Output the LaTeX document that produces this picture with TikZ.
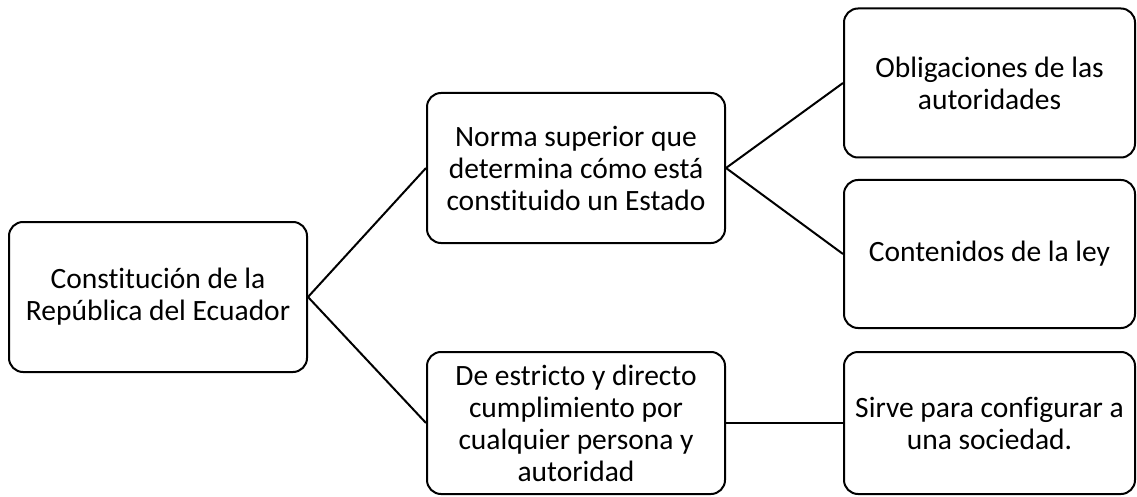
\documentclass[tikz,border=0pt]{standalone}
\usepackage{fontspec}
\setmainfont[Ligatures={NoCommon}]{Carlito}
\begin{document}
\begin{tikzpicture}[x=1pt,y=-1pt,
  box/.style={draw=black,line width=2pt,rounded corners=14pt,align=center,
    font=\fontsize{29.5}{32}\selectfont,inner sep=0pt},
  link/.style={draw=black,line width=2pt}]
\useasboundingbox (0,0) rectangle (1137,497);
\node[box,minimum width=298pt,minimum height=150pt] (root) at (158,297) {Constitución de la\\República del Ecuador};
\node[box,minimum width=298pt,minimum height=150pt] (m1) at (576,168) {Norma superior que\\determina cómo está\\constituido un Estado};
\node[box,minimum width=298pt,minimum height=142pt] (m2) at (576,423) {De estricto y directo\\cumplimiento por\\cualquier persona y\\autoridad};
\node[box,minimum width=291pt,minimum height=149pt] (r1) at (989.5,83) {Obligaciones de las\\autoridades};
\node[box,minimum width=291pt,minimum height=148pt] (r2) at (989.5,254) {Contenidos de la ley};
\node[box,minimum width=291pt,minimum height=142pt] (r3) at (989.5,423) {Sirve para configurar a\\una sociedad.};
\draw[link] (root.east) -- (m1.west);
\draw[link] (root.east) -- (m2.west);
\draw[link] (m1.east) -- (r1.west);
\draw[link] (m1.east) -- (r2.west);
\draw[link] (m2.east) -- (r3.west);
\end{tikzpicture}
\end{document}
